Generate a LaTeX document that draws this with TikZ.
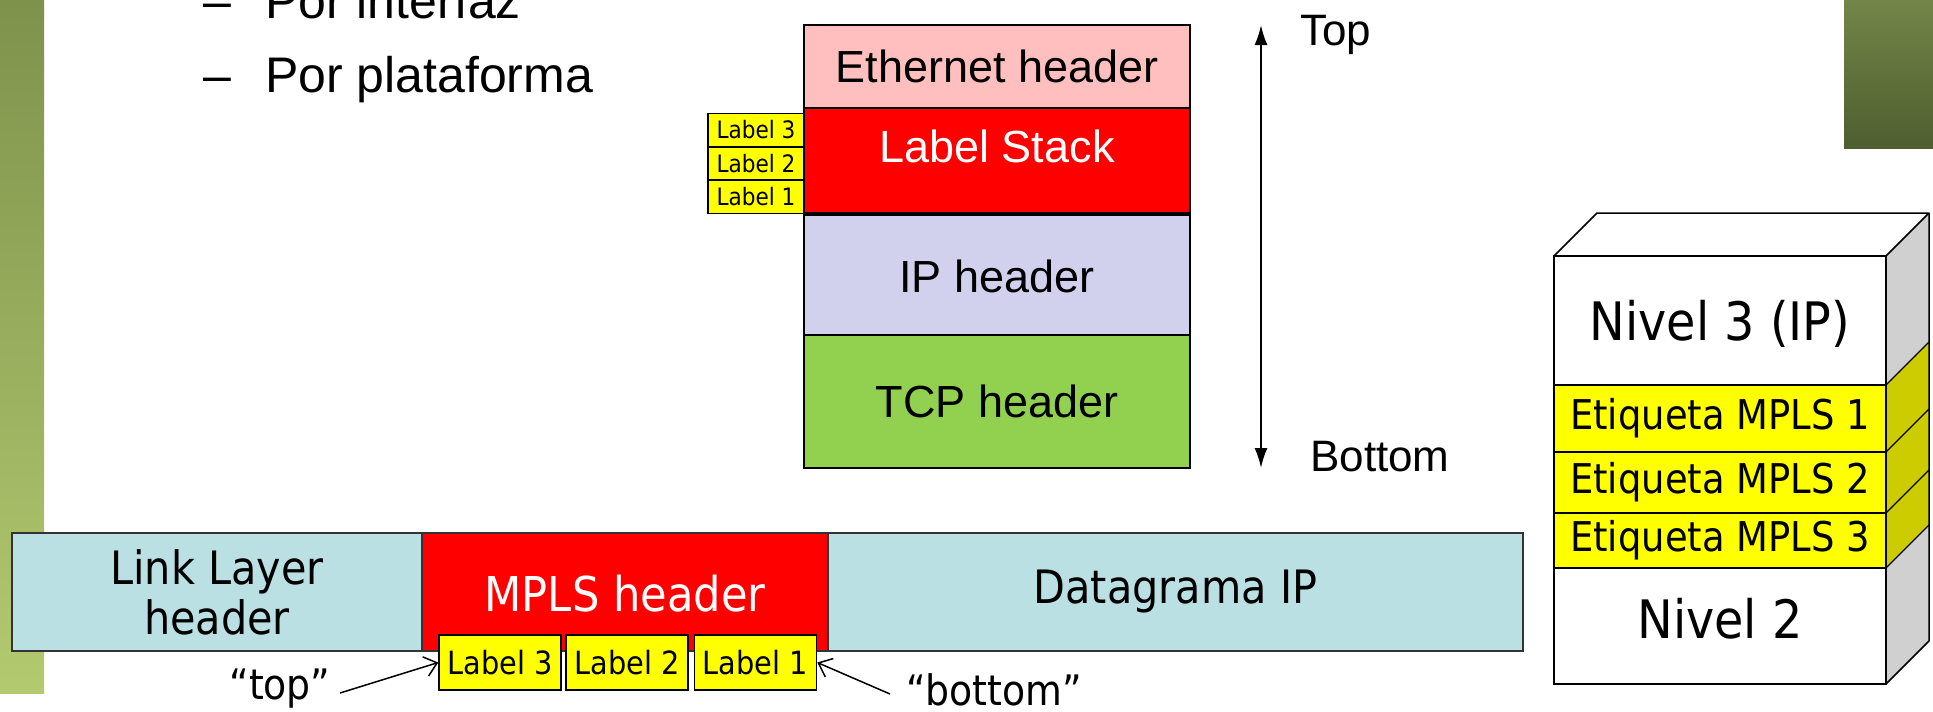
\documentclass[tikz,border=0pt]{standalone}
\usepackage{fontspec}
\setmainfont{Liberation Sans}
\newfontfamily\comic[FakeStretch=0.9]{DejaVu Sans}
\usetikzlibrary{arrows.meta}

\definecolor{ethpink}{HTML}{FFBFBF}
\definecolor{ipblue}{HTML}{D1D1EE}
\definecolor{tcpgreen}{HTML}{92D050}
\definecolor{linkblue}{HTML}{BBE0E3}
\definecolor{lblyellow}{HTML}{FFFF00}
\definecolor{sideyellow}{HTML}{CCCC00}
\definecolor{sidegray}{HTML}{D0D0D0}
\definecolor{barlighttop}{HTML}{7F924C}
\definecolor{barlightbot}{HTML}{B3CA70}
\definecolor{bardarktop}{HTML}{738548}
\definecolor{bardarkbot}{HTML}{4E5E30}

\tikzset{
  hdr/.style={draw=black, line width=2pt, inner sep=0pt, minimum width=386pt},
  toplbl/.style={draw=black, line width=1.2pt, fill=lblyellow, inner sep=0pt,
    minimum width=96pt, minimum height=33pt, font=\comic\fontsize{24}{28}\selectfont},
  botlbl/.style={draw=black, line width=1.5pt, fill=lblyellow, inner sep=0pt,
    minimum width=122pt, minimum height=55pt, font=\comic\fontsize{32}{36}\selectfont},
  seg/.style={draw=black!80, line width=1.5pt, inner sep=0pt, minimum height=118pt,
    font=\comic\fontsize{46}{50}\selectfont, align=center},
  layer/.style={draw=black, line width=1.5pt, inner sep=0pt, minimum width=332pt,
    align=center},
  bullet/.style={font=\fontsize{50}{60}\selectfont, anchor=base west, inner sep=0pt},
  axis/.style={font=\fontsize{44}{50}\selectfont, anchor=west, inner sep=0pt},
  pointer/.style={line width=1.5pt, -{Straight Barb[length=12pt,width=20pt]}},
  note/.style={font=\comic\fontsize{42}{46}\selectfont, inner sep=0pt}
}

\begin{document}
\begin{tikzpicture}[x=1pt, y=-1pt]
\useasboundingbox (0,0) rectangle (1933,712);

% side decoration bars
\shade[top color=barlighttop, bottom color=barlightbot] (0,0) rectangle (44,693);
\shade[top color=bardarktop, bottom color=bardarkbot] (1844,0) rectangle (1933,148);

% bullet list
\node[bullet] (d1) at (203,19) {–};
\node[bullet] (b1) at (265,19) {Por interfaz};
\node[bullet] (d2) at (203,92) {–};
\node[bullet] (b2) at (265,92) {Por plataforma};

% header stack
\node[hdr, fill=ethpink, minimum height=83pt, font=\fontsize{45}{50}\selectfont] (eth) at (997,66.5) {Ethernet header};
\node[hdr, fill=red, minimum height=105pt] (stk) at (997,160.5) {};
\node[font=\fontsize{45}{50}\selectfont, text=white, inner sep=0pt] (stktxt) at (997,146) {Label Stack};
\node[hdr, fill=ipblue, minimum height=122pt, font=\fontsize{45}{50}\selectfont] (ip) at (997,276) {IP header};
\node[hdr, fill=tcpgreen, minimum height=133pt, font=\fontsize{45}{50}\selectfont] (tcp) at (997,401.5) {TCP header};

\node[toplbl] (s3) at (756,130) {Label 3};
\node[toplbl] (s2) at (756,163.5) {Label 2};
\node[toplbl] (s1) at (756,197) {Label 1};

% top / bottom axis
\coordinate (atop) at (1261,25);
\coordinate (abot) at (1261,468);
\draw[line width=2pt, {Latex[length=20pt,width=13pt]}-{Latex[length=20pt,width=13pt]}] (atop) -- (abot);
\node[axis] (ttop) at (1300,35) {Top};
\node[axis] (tbot) at (1310,457) {Bottom};

% frame with MPLS header
\node[seg, fill=linkblue, minimum width=410pt] (link) at (217,592) {Link Layer\\header};
\node[seg, fill=linkblue, minimum width=695pt] (dgram) at (1175.5,592) {Datagrama IP};
\node[seg, fill=red, minimum width=406pt] (mpls) at (625,592) {};
\node[note, text=white, font=\comic\fontsize{48}{52}\selectfont] (mplstxt) at (625,594) {MPLS header};

\node[botlbl] (l3) at (500,662.5) {Label 3};
\node[botlbl] (l2) at (627,662.5) {Label 2};
\node[botlbl] (l1) at (755.5,662.5) {Label 1};

\node[note] (toptxt) at (280,689) {“top”};
\node[note] (bottxt) at (994,690) {“bottom”};
\coordinate (tstart) at (340,693);
\coordinate (bstart) at (890,694);
\draw[pointer] (tstart) -- (l3.west);
\draw[pointer] (bstart) -- (l1.east);

% 3D layer block
\fill[white] (1554,256) -- (1597,213) -- (1929,213) -- (1886,256) -- cycle;
\fill[sidegray] (1886,256) -- (1929,213) -- (1929,641) -- (1886,684) -- cycle;
\fill[sideyellow] (1886,385) -- (1929,342) -- (1929,525) -- (1886,568) -- cycle;
\draw[line width=1.5pt, line join=round] (1554,256) -- (1597,213) -- (1929,213) -- (1886,256);
\draw[line width=1.5pt, line join=round] (1929,213) -- (1929,641) -- (1886,684);
\foreach \yy in {385,452,513,568} {
  \draw[line width=1.2pt] (1886,\yy) -- (1929,\yy-43);
}

\node[layer, fill=white, minimum height=129pt] (n3) at (1720,320.5) {};
\node[inner sep=0pt, font=\comic\fontsize{53}{58}\selectfont] (n3txt) at (1720,324) {Nivel 3 (IP)};
\node[layer, fill=lblyellow, minimum height=67pt, font=\comic\fontsize{41}{46}\selectfont] (e1) at (1720,418.5) {Etiqueta MPLS 1};
\node[layer, fill=lblyellow, minimum height=61pt, font=\comic\fontsize{41}{46}\selectfont] (e2) at (1720,482.5) {Etiqueta MPLS 2};
\node[layer, fill=lblyellow, minimum height=55pt, font=\comic\fontsize{41}{46}\selectfont] (e3) at (1720,540.5) {Etiqueta MPLS 3};
\node[layer, fill=white, minimum height=116pt] (n2) at (1720,626) {};
\node[inner sep=0pt, font=\comic\fontsize{53}{58}\selectfont] (n2txt) at (1720,619) {Nivel 2};
\end{tikzpicture}
\end{document}
